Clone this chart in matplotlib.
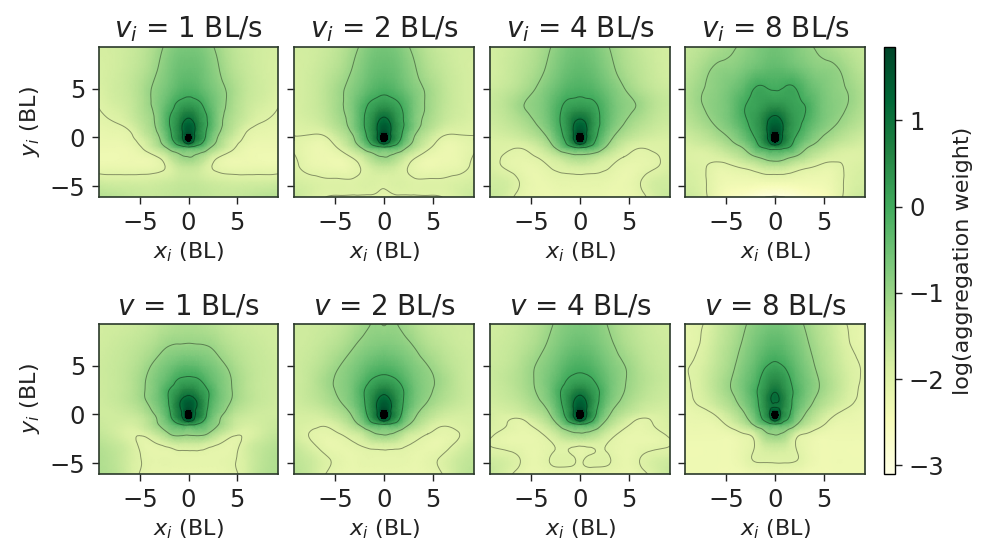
import numpy as np
import matplotlib
matplotlib.use('Agg')
import matplotlib.pyplot as plt
import matplotlib.tri as mtri

# grid nodes, only right half of each panel is read, left is mirrored
x_half = [0, 0.5, 1, 2, 3, 4.5, 6, 7.5, 9.25]
y_nodes = [9.25, 7, 5, 3.5, 2.5, 1.5, 0.8, 0.2, -0.3, -1, -2, -3, -4.5, -6.1]

titles_top = ['$v_i$ = 1 BL/s', '$v_i$ = 2 BL/s', '$v_i$ = 4 BL/s', '$v_i$ = 8 BL/s']
titles_bottom = ['$v$ = 1 BL/s', '$v$ = 2 BL/s', '$v$ = 4 BL/s', '$v$ = 8 BL/s']
contour_levels = [-3, -2, -1, 0, 1]
cbar_ticks = [-3, -2, -1, 0, 1]

vi_1 = [
    [-.65, -.66, -.68, -.85, -1.1, -1.45, -1.65, -1.75, -1.8],
    [-.45, -.46, -.5, -.7, -.95, -1.35, -1.6, -1.75, -1.82],
    [-.2, -.22, -.3, -.55, -.8, -1.18, -1.55, -1.72, -1.88],
    [.2, .15, .08, -.3, -.7, -1.2, -1.6, -1.78, -1.97],
    [.7, .6, .35, -.1, -.7, -1.25, -1.65, -1.88, -2.03],
    [1.25, 1.05, .6, -.02, -.72, -1.35, -1.78, -2.0, -2.1],
    [1.5, 1.2, .65, -.1, -.8, -1.45, -1.95, -2.1, -2.15],
    [2.05, 1.25, .6, -.2, -.95, -1.6, -2.05, -2.15, -2.2],
    [2.05, 1.15, .5, -.35, -1.05, -1.75, -2.1, -2.2, -2.2],
    [-.05, -.15, -.3, -.8, -1.3, -1.9, -2.2, -2.25, -2.25],
    [-1, -1.03, -1.15, -1.55, -1.95, -2.2, -2.25, -2.3, -2.3],
    [-1.5, -1.52, -1.6, -1.9, -2.1, -2.2, -2.2, -2.2, -2.2],
    [-1.6, -1.6, -1.62, -1.7, -1.75, -1.8, -1.8, -1.8, -1.75],
    [-1.5, -1.5, -1.5, -1.55, -1.6, -1.6, -1.55, -1.45, -1.35],
]
vi_2 = [
    [-.6, -.62, -.65, -.85, -1.1, -1.45, -1.65, -1.75, -1.75],
    [-.42, -.44, -.48, -.68, -.92, -1.3, -1.55, -1.72, -1.8],
    [-.15, -.18, -.25, -.48, -.75, -1.1, -1.45, -1.7, -1.8],
    [.25, .2, .12, -.15, -.6, -1.08, -1.45, -1.7, -1.82],
    [.75, .65, .4, -.02, -.6, -1.1, -1.5, -1.72, -1.85],
    [1.3, 1.1, .65, .02, -.62, -1.2, -1.6, -1.8, -1.9],
    [1.55, 1.25, .7, -.03, -.7, -1.35, -1.78, -1.9, -1.95],
    [2.25, 1.4, .65, -.15, -.9, -1.55, -1.97, -2.02, -2.0],
    [2.2, 1.3, .55, -.3, -1.0, -1.7, -2.1, -2.12, -2.0],
    [-.02, -.1, -.25, -.75, -1.3, -1.9, -2.2, -2.2, -2.03],
    [-1, -1.03, -1.15, -1.55, -1.9, -2.2, -2.25, -2.2, -1.97],
    [-1.55, -1.57, -1.65, -1.9, -2.1, -2.25, -2.2, -2.15, -1.9],
    [-1.93, -1.9, -1.87, -1.88, -1.95, -1.95, -1.95, -1.88, -1.8],
    [-2.15, -2.1, -2.05, -2.05, -2.03, -2.03, -2.0, -1.85, -1.6],
]
vi_4 = [
    [-.55, -.57, -.6, -.78, -1.0, -1.3, -1.55, -1.7, -1.8],
    [-.38, -.4, -.45, -.62, -.85, -1.2, -1.45, -1.65, -1.8],
    [-.15, -.17, -.2, -.38, -.62, -.98, -1.3, -1.55, -1.7],
    [.15, .12, .1, -.1, -.45, -.85, -1.05, -1.4, -1.6],
    [.6, .55, .4, .0, -.42, -.87, -1.12, -1.45, -1.65],
    [1.2, 1.05, .65, .02, -.48, -.98, -1.3, -1.55, -1.7],
    [1.5, 1.25, .65, -.05, -.6, -1.12, -1.45, -1.65, -1.78],
    [2.25, 1.4, .6, -.15, -.75, -1.3, -1.6, -1.75, -1.82],
    [2.2, 1.3, .5, -.3, -.9, -1.5, -1.75, -1.85, -1.88],
    [.15, .05, -.15, -.62, -1.2, -1.75, -1.97, -1.95, -1.9],
    [-1.15, -1.18, -1.25, -1.5, -1.75, -2.0, -2.1, -2.05, -1.9],
    [-1.75, -1.77, -1.8, -1.9, -1.98, -2.15, -2.15, -2.05, -1.85],
    [-2.1, -2.1, -2.1, -2.1, -2.15, -2.2, -2.05, -1.8, -1.75],
    [-2.2, -2.2, -2.2, -2.2, -2.25, -2.2, -2.15, -1.85, -1.6],
]
vi_8 = [
    [-.55, -.57, -.6, -.72, -.9, -1.05, -1.25, -1.45, -1.6],
    [-.35, -.36, -.4, -.5, -.65, -.85, -.93, -1.18, -1.5],
    [-.03, -.02, .03, .03, -.25, -.6, -.85, -1.03, -1.35],
    [.3, .3, .25, .12, -.02, -.5, -.8, -1.0, -1.35],
    [.85, .75, .55, .2, .03, -.5, -.82, -1.08, -1.4],
    [1.3, 1.2, .8, .25, -.08, -.58, -.92, -1.2, -1.5],
    [1.6, 1.4, .8, .2, -.2, -.72, -1.05, -1.35, -1.6],
    [2.3, 1.5, .75, .1, -.35, -.88, -1.2, -1.5, -1.7],
    [2.25, 1.4, .7, -.03, -.5, -1.0, -1.35, -1.6, -1.78],
    [.45, .35, .15, -.3, -.85, -1.25, -1.6, -1.78, -1.85],
    [-.65, -.68, -.8, -1.03, -1.3, -1.68, -1.88, -1.95, -1.9],
    [-1.5, -1.5, -1.55, -1.75, -1.9, -2.05, -2.1, -1.95, -1.85],
    [-2.3, -2.3, -2.3, -2.3, -2.3, -2.3, -2.2, -1.92, -1.8],
    [-3.05, -3.02, -3.0, -2.9, -2.75, -2.6, -2.3, -1.85, -1.65],
]
v_1 = [
    [-1.25, -1.25, -1.27, -1.35, -1.45, -1.6, -1.7, -1.75, -1.75],
    [-.94, -.95, -.96, -1.0, -1.15, -1.4, -1.55, -1.65, -1.75],
    [-.35, -.36, -.42, -.6, -.8, -1.15, -1.45, -1.6, -1.7],
    [.12, .1, .05, -.28, -.6, -1.02, -1.4, -1.6, -1.7],
    [.6, .55, .35, .0, -.5, -1.0, -1.4, -1.6, -1.7],
    [1.3, 1.15, .8, .05, -.5, -1.02, -1.4, -1.6, -1.72],
    [1.55, 1.3, .9, .0, -.6, -1.15, -1.5, -1.65, -1.72],
    [2.2, 1.35, .8, -.1, -.7, -1.3, -1.6, -1.7, -1.72],
    [2.2, 1.3, .7, -.2, -.85, -1.45, -1.7, -1.72, -1.7],
    [.2, .15, -.05, -.55, -.95, -1.55, -1.8, -1.75, -1.65],
    [-.93, -.9, -.88, -1.02, -1.45, -1.9, -1.95, -1.75, -1.55],
    [-1.65, -1.65, -1.65, -1.8, -1.97, -2.1, -1.85, -1.6, -1.4],
    [-2.1, -2.1, -2.1, -2.1, -2.1, -2.05, -1.8, -1.5, -1.3],
    [-2.2, -2.2, -2.2, -2.2, -2.2, -2.1, -1.8, -1.45, -1.25],
]
v_2 = [
    [-1.02, -.98, -.97, -1.1, -1.3, -1.55, -1.65, -1.7, -1.7],
    [-.7, -.72, -.75, -.85, -1.0, -1.3, -1.5, -1.65, -1.7],
    [-.25, -.27, -.32, -.5, -.72, -1.0, -1.3, -1.55, -1.7],
    [.18, .15, .08, -.2, -.55, -.9, -1.15, -1.5, -1.7],
    [.7, .6, .4, .0, -.48, -.9, -1.2, -1.5, -1.7],
    [1.3, 1.1, .7, .0, -.52, -.98, -1.3, -1.55, -1.72],
    [1.55, 1.3, .75, -.05, -.62, -1.12, -1.45, -1.65, -1.75],
    [2.25, 1.4, .7, -.15, -.78, -1.3, -1.62, -1.75, -1.78],
    [2.2, 1.3, .6, -.3, -.9, -1.45, -1.75, -1.82, -1.8],
    [.05, -.02, -.15, -.65, -1.15, -1.7, -1.95, -1.9, -1.82],
    [-.95, -.98, -1.05, -1.45, -1.75, -2.0, -2.1, -2.03, -1.8],
    [-1.7, -1.72, -1.75, -1.9, -2.02, -2.15, -2.15, -1.95, -1.65],
    [-2.1, -2.1, -2.1, -2.1, -2.15, -2.1, -1.95, -1.7, -1.5],
    [-2.2, -2.2, -2.2, -2.2, -2.2, -2.15, -2.0, -1.65, -1.4],
]
v_4 = [
    [-.68, -.7, -.72, -.85, -1.05, -1.35, -1.55, -1.7, -1.72],
    [-.45, -.47, -.52, -.68, -.88, -1.2, -1.45, -1.62, -1.7],
    [-.12, -.14, -.2, -.42, -.68, -.98, -1.3, -1.55, -1.65],
    [.15, .13, .08, -.2, -.55, -.95, -1.25, -1.5, -1.65],
    [.65, .55, .35, -.02, -.52, -.98, -1.3, -1.55, -1.68],
    [1.25, 1.05, .65, -.03, -.6, -1.08, -1.42, -1.62, -1.72],
    [1.5, 1.25, .65, -.12, -.75, -1.22, -1.55, -1.72, -1.78],
    [2.25, 1.4, .6, -.25, -.9, -1.4, -1.7, -1.82, -1.8],
    [2.2, 1.3, .5, -.42, -1.05, -1.6, -1.93, -1.95, -1.82],
    [.05, -.05, -.25, -.8, -1.35, -1.85, -2.1, -2.0, -1.85],
    [-1.05, -1.08, -1.15, -1.45, -1.8, -2.1, -2.15, -2.1, -1.93],
    [-1.88, -1.87, -1.87, -1.9, -2.03, -2.15, -2.15, -2.12, -2.02],
    [-2.05, -2.0, -1.95, -1.93, -1.98, -2.15, -2.03, -1.85, -1.75],
    [-2.2, -2.2, -2.2, -2.2, -2.2, -2.2, -2.15, -1.9, -1.6],
]
v_8 = [
    [-.62, -.63, -.68, -.82, -1.02, -1.4, -1.7, -2.02, -2.1],
    [-.3, -.32, -.4, -.6, -.85, -1.25, -1.6, -1.95, -2.1],
    [.1, .05, -.05, -.38, -.68, -1.12, -1.5, -1.85, -2.03],
    [.5, .42, .25, -.2, -.55, -1.0, -1.4, -1.8, -2.05],
    [.9, .7, .4, -.08, -.52, -1.0, -1.42, -1.82, -2.08],
    [1.1, .95, .55, -.15, -.62, -1.15, -1.55, -1.88, -2.1],
    [.95, .85, .5, -.22, -.75, -1.3, -1.7, -1.98, -2.15],
    [2.25, 1.15, .4, -.35, -.92, -1.5, -1.9, -2.1, -2.2],
    [2.25, 1.05, .3, -.5, -1.05, -1.65, -2.02, -2.15, -2.2],
    [-.02, -.12, -.35, -.82, -1.35, -1.85, -2.15, -2.2, -2.22],
    [-.97, -1.0, -1.1, -1.7, -2.0, -2.2, -2.25, -2.25, -2.25],
    [-1.5, -1.52, -1.6, -1.97, -2.15, -2.3, -2.3, -2.3, -2.3],
    [-1.93, -1.93, -1.93, -1.96, -2.1, -2.3, -2.3, -2.3, -2.3],
    [-2.25, -2.25, -2.3, -2.3, -2.35, -2.35, -2.35, -2.3, -2.3],
]

VMIN = -3.1
VMAX = 1.85
W, H = 984.0, 544.0


def px_axes(fig, left, right, top, bottom):
    return fig.add_axes([left / W, 1 - bottom / H, (right - left) / W, (bottom - top) / H])


def draw_panel(ax, half, title, show_y):
    half = np.array(half, dtype=float)
    xs = np.array(x_half, dtype=float)
    x_full = np.concatenate([-xs[:0:-1], xs])
    z_full = np.hstack([half[:, :0:-1], half])
    X, Y = np.meshgrid(x_full, np.array(y_nodes))
    tri = mtri.Triangulation(X.ravel(), Y.ravel())
    refiner = mtri.UniformTriRefiner(tri)
    tri_fine, z_fine = refiner.refine_field(z_full.ravel(), subdiv=3)

    ax.tripcolor(tri_fine, z_fine, shading='gouraud', cmap='YlGn', vmin=VMIN, vmax=VMAX,
                 rasterized=True)
    ax.tricontour(tri_fine, z_fine, levels=contour_levels, colors='k', linewidths=0.7,
                  linestyles='solid', alpha=0.4)
    # the head spot goes past the top of the colour scale
    ax.tricontourf(tri_fine, z_fine, levels=[VMAX, 10], colors='k')

    ax.set_xlim(-9.25, 9.25)
    ax.set_ylim(-6.1, 9.25)
    ax.set_xticks([-5, 0, 5])
    ax.set_yticks([-5, 0, 5])
    ax.tick_params(labelsize=17.5, length=5, width=1, colors='#222222', pad=5)
    ax.set_title(title, fontsize=20, pad=7, color='#222222')
    ax.set_xlabel('$x_i$ (BL)', fontsize=16, color='#222222', labelpad=4)
    if show_y:
        ax.set_ylabel('$y_i$ (BL)', fontsize=16, color='#222222', labelpad=5)
    else:
        ax.set_yticklabels([])
    for s in ax.spines.values():
        s.set_linewidth(1.2)
        s.set_color('#2b3a2b')


fig = plt.figure(figsize=(9.84, 5.44), dpi=100)

lefts = [99, 294, 490, 685]
rights = [278, 474, 670, 865]
top_panels = [vi_1, vi_2, vi_4, vi_8]
bottom_panels = [v_1, v_2, v_4, v_8]

for i in range(4):
    ax = px_axes(fig, lefts[i], rights[i], 47, 197)
    draw_panel(ax, top_panels[i], titles_top[i], i == 0)
    ax = px_axes(fig, lefts[i], rights[i], 324, 474)
    draw_panel(ax, bottom_panels[i], titles_bottom[i], i == 0)

cax = px_axes(fig, 884, 895, 47, 474)
sm = plt.cm.ScalarMappable(norm=plt.Normalize(VMIN, VMAX), cmap='YlGn')
cb = fig.colorbar(sm, cax=cax)
cb.set_ticks(cbar_ticks)
cb.ax.tick_params(labelsize=17.5, length=5, width=1, colors='#222222', pad=5)
cb.set_label('log(aggregation weight)', fontsize=16, color='#222222', labelpad=6)
cb.outline.set_linewidth(1.0)

fig.savefig('out.png', dpi=100)
